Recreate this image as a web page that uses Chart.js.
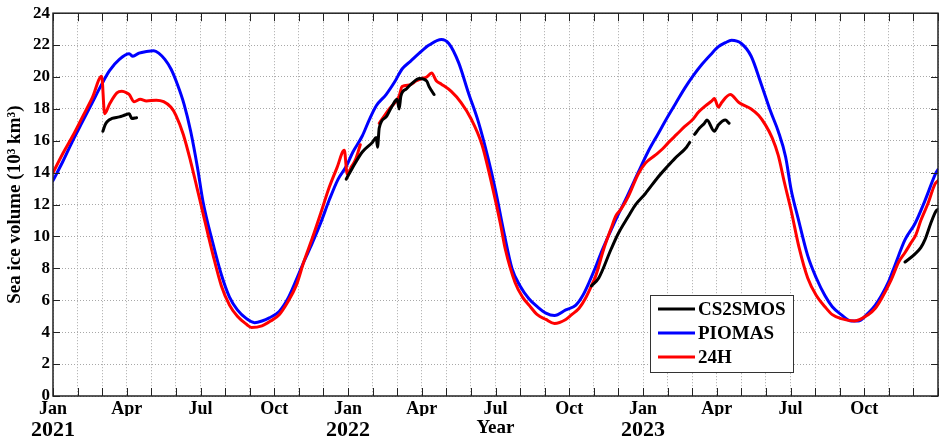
<!DOCTYPE html>
<html>
<head>
<meta charset="utf-8">
<script src="https://cdn.jsdelivr.net/npm/chart.js@4.4.1/dist/chart.umd.min.js"></script>
<style>
  html, body { margin: 0; padding: 0; background: #fff; }
  #wrap { width: 941px; height: 439px; position: relative; }
</style>
</head>
<body>
<div id="wrap"><canvas id="chart"></canvas></div>
<script>
// ---------- DATOS (x = meses desde enero 2021) ----------
const monthNames = ['Jan', 'Apr', 'Jul', 'Oct'];
const yearTicks = [0, 12, 18, 24];
const yearLabels = ['2021', '2022', 'Year', '2023'];

const piomasX = [0, 0.4, 0.8, 1.2, 1.6, 2.0, 2.3, 2.7, 3.1, 3.25, 3.5, 3.8, 4.1, 4.3, 4.55, 4.8, 5.07, 5.33, 5.6, 5.88,
  6.1, 6.5, 6.85, 7.18, 7.5, 7.87, 8.2, 8.5, 8.8, 9.2, 9.55, 9.9, 10.2, 10.55, 10.9, 11.24, 11.6, 11.93, 12.2, 12.58,
  12.86, 13.15, 13.55, 13.9, 14.2, 14.55, 14.9, 15.3, 15.8, 16.1, 16.5, 16.9, 17.3, 17.7, 18.0, 18.35, 18.67, 19.0, 19.36, 19.7,
  20.05, 20.4, 20.86, 21.27, 21.55, 21.8, 22.05, 22.3, 22.7, 23.0, 23.35, 23.8, 24.2, 24.6, 25.04, 25.35, 25.7, 26.05, 26.4,
  26.75, 27.07, 27.35, 27.6, 28.0, 28.4, 28.8, 29.2, 29.5, 29.8, 30.03, 30.3, 30.7, 31.05, 31.4, 31.7, 32.06, 32.47, 32.75, 33.16,
  33.45, 33.7, 34.0, 34.25, 34.66, 35.06, 35.47, 35.92, 36.0];
const piomasY = [13.5, 14.7, 16.0, 17.2, 18.4, 19.6, 20.4, 21.1, 21.45, 21.3, 21.5, 21.6, 21.65, 21.5, 21.1, 20.5, 19.5, 18.3, 16.6, 14.3,
  12.2, 9.6, 7.6, 6.2, 5.4, 4.85, 4.6, 4.7, 4.9, 5.3, 6.1, 7.3, 8.4, 9.6, 10.9, 12.3, 13.6, 14.4, 15.3, 16.3,
  17.3, 18.2, 18.9, 19.7, 20.5, 21.0, 21.5, 22.0, 22.35, 22.1, 20.9, 19.0, 17.2, 14.9, 12.9, 10.2, 8.0, 6.9, 6.1, 5.6,
  5.2, 5.05, 5.4, 5.7, 6.3, 7.1, 8.0, 9.0, 10.4, 11.4, 12.5, 14.0, 15.3, 16.4, 17.6, 18.4, 19.3, 20.1, 20.8,
  21.4, 21.9, 22.15, 22.3, 22.1, 21.3, 19.6, 17.8, 16.6, 15.0, 12.9, 11.2, 8.8, 7.4, 6.3, 5.6, 5.1, 4.7, 4.7, 5.2,
  5.7, 6.3, 7.2, 8.2, 9.8, 10.8, 12.25, 14.0, 14.2];

const h24X = [0, 0.4, 0.8, 1.2, 1.6, 1.98, 2.1, 2.3, 2.6, 2.8, 3.0, 3.1, 3.3, 3.55, 3.8, 4.2, 4.5, 4.8, 5.0, 5.3,
  5.6, 5.85, 6.05, 6.5, 6.85, 7.18, 7.5, 7.87, 8.07, 8.5, 8.85, 9.2, 9.55, 9.9, 10.2, 10.55, 10.9, 11.24, 11.55, 11.85,
  11.97, 12.15, 12.3, 12.5, 12.9, 13.27, 13.68, 14.08, 14.2, 14.5, 14.77, 15.0, 15.2, 15.4, 15.6, 15.8, 16.2, 16.6, 17.0, 17.45,
  17.86, 18.2, 18.4, 18.8, 19.1, 19.36, 19.7, 20.05, 20.4, 20.86, 21.1, 21.4, 21.65, 21.9, 22.07, 22.4, 22.7, 22.9, 23.1, 23.4,
  23.8, 24.1, 24.5, 24.8, 25.04, 25.37, 25.7, 26.0, 26.26, 26.55, 26.8, 26.9, 27.07, 27.2, 27.55, 27.9, 28.4, 28.7, 28.98, 29.25,
  29.5, 29.75, 30.03, 30.35, 30.7, 31.05, 31.4, 31.7, 32.06, 32.6, 33.16, 33.45, 33.7, 34.1, 34.4, 34.66, 34.9, 35.1, 35.3, 35.6,
  35.88, 36.0];
const h24Y = [14.0, 15.2, 16.3, 17.5, 18.7, 20.05, 17.7, 18.3, 19.0, 19.1, 19.0, 18.9, 18.45, 18.6, 18.5, 18.55, 18.45, 18.1, 17.6, 16.4,
  14.7, 13.1, 11.8, 8.9, 6.9, 5.7, 5.0, 4.5, 4.3, 4.4, 4.7, 5.1, 5.9, 6.95, 8.4, 9.9, 11.5, 13.1, 14.3, 15.4,
  13.9, 14.4, 14.8, 15.75, null, 17.1, 18.0, 18.8, 19.4, 19.5, 19.75, 19.9, 20.0, 20.25, 19.75, 19.55, 19.1, 18.4, 17.4, 15.75,
  13.2, 10.8, 9.2, 7.1, 6.2, 5.7, 5.1, 4.8, 4.55, 4.8, 5.1, 5.5, 6.1, 6.9, 7.5, 9.2, 10.5, 11.3, 11.7, 12.5,
  13.9, 14.6, 15.1, 15.5, 15.9, 16.4, 16.9, 17.3, 17.8, 18.2, 18.5, 18.65, 18.1, 18.4, 18.9, 18.4, 18.0, 17.6, 17.0, 16.2,
  15.1, 13.4, 11.6, 9.3, 7.4, 6.3, 5.6, 5.1, 4.85, 4.7, 5.1, 5.5, 6.1, 7.3, 8.4, 9.0, 9.6, 10.1, 11.0, 12.1,
  13.3, 13.5];

const cs2X = [2.03, 2.12, 2.2, 2.4, 2.7, 2.9, 3.1, 3.2, 3.4, 7,
  11.93, 12.18, 12.58, 12.99, 13.15, 13.2, 13.27, 13.55, 13.8, 14.0, 14.08, 14.15, 14.37, 14.6, 14.9, 15.2, 15.3, 15.5, 18,
  21.9, 22.2, 22.7, 23.0, 23.4, 23.7, 24.1, 24.6, 25.0, 25.3, 25.77, 25.9, 26.0,
  26.1, 26.3, 26.5, 26.6, 26.9, 27.07, 27.35, 27.5, 30,
  34.66, 35.06, 35.3, 35.47, 35.7, 35.92, 36.0];
const cs2Y = [16.6, 17.0, 17.2, 17.4, 17.5, 17.6, 17.7, 17.4, 17.45, null,
  13.6, 14.3, 15.3, 15.9, 16.2, 15.6, 16.8, 17.5, 18.2, 18.6, 18.0, 18.8, 19.25, 19.6, 19.9, 19.75, 19.4, 18.9, null,
  6.9, 7.4, 9.2, 10.2, 11.25, 12.0, 12.7, 13.7, 14.4, 14.9, 15.6, 15.9, null,
  16.4, 16.8, 17.1, 17.3, 16.6, 17.0, 17.3, 17.1, null,
  8.4, 8.9, 9.3, 9.8, 10.8, 11.6, 11.7];

const FONT = "'Liberation Serif', 'Times New Roman', serif";

function toPoints(xs, ys) {
    return xs.map((x, i) => ({ x: x, y: ys[i] }));
}

// ---------- PLUGIN: marco, ticks hacia dentro y leyenda ----------
const framePlugin = {
    id: 'frame',
    afterDraw(chart) {
        const c = chart.ctx;
        const a = chart.chartArea;
        const xs = chart.scales.x;
        const ys = chart.scales.y;
        c.save();
        c.strokeStyle = '#222';
        c.lineWidth = 1;
        xs.ticks.forEach(t => {
            const px = Math.round(xs.getPixelForValue(t.value)) + 0.5;
            c.beginPath();
            c.moveTo(px, a.bottom); c.lineTo(px, a.bottom - 8);
            c.moveTo(px, a.top); c.lineTo(px, a.top + 8);
            c.stroke();
        });
        ys.ticks.forEach(t => {
            const py = Math.round(ys.getPixelForValue(t.value)) + 0.5;
            c.beginPath();
            c.moveTo(a.left, py); c.lineTo(a.left + 7, py);
            c.moveTo(a.right, py); c.lineTo(a.right - 7, py);
            c.stroke();
        });
        c.lineWidth = 1.5;
        c.strokeRect(a.left, a.top, a.right - a.left, a.bottom - a.top);

        // leyenda
        const bx = a.right - 288, by = a.bottom - 101, bw = 143, bh = 77;
        c.fillStyle = '#fff';
        c.fillRect(bx, by, bw, bh);
        c.lineWidth = 1;
        c.strokeStyle = '#333';
        c.strokeRect(bx + 0.5, by + 0.5, bw, bh);
        c.font = 'bold 19px ' + FONT;
        c.textBaseline = 'middle';
        c.textAlign = 'left';
        chart.data.datasets.forEach((ds, i) => {
            const ly = by + 14 + i * 24;
            c.strokeStyle = ds.borderColor;
            c.lineWidth = 3;
            c.beginPath();
            c.moveTo(bx + 8, ly); c.lineTo(bx + 45, ly);
            c.stroke();
            c.fillStyle = '#000';
            c.fillText(ds.label, bx + 48, ly + 1);
        });
        c.restore();
    }
};

// ---------- INICIALIZAR GRÁFICA ----------
const ctx = document.getElementById('chart');
const chart = new Chart(ctx, {
    type: 'line',
    data: {
        datasets: [{
            label: 'CS2SMOS',
            data: toPoints(cs2X, cs2Y),
            borderColor: '#000000',
            borderWidth: 3,
            order: 0
        }, {
            label: 'PIOMAS',
            data: toPoints(piomasX, piomasY),
            borderColor: '#0000ff',
            borderWidth: 3,
            order: 2
        }, {
            label: '24H',
            data: toPoints(h24X, h24Y),
            borderColor: '#ff0000',
            borderWidth: 3,
            order: 1
        }]
    },
    options: {
        responsive: true,
        maintainAspectRatio: false,
        animation: false,
        devicePixelRatio: 1,
        spanGaps: false,
        layout: { padding: { top: 7, right: 1, left: 0, bottom: 0 } },
        elements: {
            point: { radius: 0 },
            line: { cubicInterpolationMode: 'monotone', borderCapStyle: 'round', borderJoinStyle: 'round' }
        },
        plugins: {
            legend: { display: false },
            tooltip: { enabled: false }
        },
        scales: {
            x: {
                type: 'linear',
                position: 'bottom',
                weight: 0,
                min: 0,
                max: 36,
                afterFit: s => { s.height = 20; },
                afterBuildTicks: s => {
                    s.ticks = [];
                    for (let m = 0; m <= 36; m++) s.ticks.push({ value: m });
                },
                ticks: {
                    autoSkip: false,
                    maxRotation: 0,
                    padding: 3,
                    color: '#000',
                    font: { family: FONT, weight: 'bold', size: 18 },
                    callback: v => (v % 3 === 0 && v < 36) ? monthNames[(v / 3) % 4] : ''
                },
                grid: { color: '#a8a8a8', lineWidth: 1, drawTicks: false },
                border: { display: false, dash: [1, 2] }
            },
            x2: {
                type: 'linear',
                position: 'bottom',
                weight: 1,
                min: 0,
                max: 36,
                afterFit: s => { s.height = 23; },
                afterBuildTicks: s => { s.ticks = yearTicks.map(v => ({ value: v })); },
                ticks: {
                    autoSkip: false,
                    maxRotation: 0,
                    padding: 1,
                    color: '#000',
                    font: c => ({ family: FONT, weight: 'bold', size: (c.tick && c.tick.value === 18) ? 19 : 22 }),
                    callback: v => yearLabels[yearTicks.indexOf(v)]
                },
                grid: { display: false, drawTicks: false },
                border: { display: false }
            },
            y: {
                min: 0,
                max: 24,
                afterFit: s => { s.width = 53; },
                ticks: {
                    stepSize: 2,
                    padding: 3,
                    color: '#000',
                    font: { family: FONT, weight: 'bold', size: 17 }
                },
                grid: { color: '#a8a8a8', lineWidth: 1, drawTicks: false },
                border: { display: false, dash: [1, 2] },
                title: {
                    display: true,
                    text: 'Sea ice volume (10³ km³)',
                    color: '#000',
                    padding: { top: 4, bottom: 0 },
                    font: { family: FONT, weight: 'bold', size: 19 }
                }
            }
        }
    },
    plugins: [framePlugin]
});
</script>
</body>
</html>
